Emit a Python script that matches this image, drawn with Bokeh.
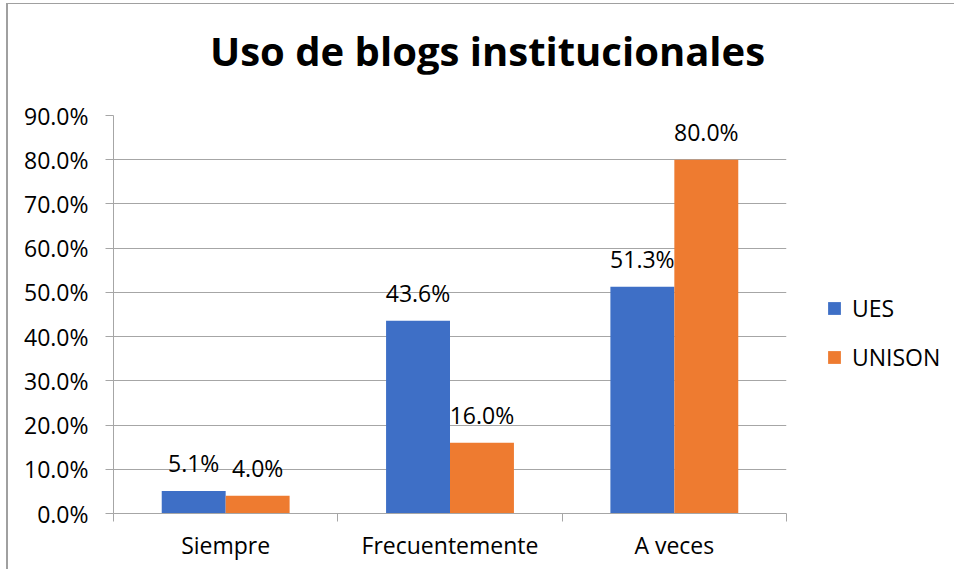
from bokeh.plotting import figure
from bokeh.models import (ColumnDataSource, FixedTicker, PrintfTickFormatter, Range1d,
                          Legend, LegendItem, LabelSet, Div)
from bokeh.layouts import column
from bokeh.core.properties import value
from bokeh.embed import file_html
from bokeh.resources import INLINE

title_text = "Uso de blogs institucionales"
categories = ["Siempre", "Frecuentemente", "A veces"]
series_names = ["UES", "UNISON"]
ues = [5.1, 43.6, 51.3]
unison = [4.0, 16.0, 80.0]
y_ticks = [0, 10, 20, 30, 40, 50, 60, 70, 80, 90]

colors = ["#3e6fc6", "#ee7b30"]
FONT = "Open Sans"
GRID = "#a6a6a6"
FS = "23px"

bar_w = 0.285
offsets = [-bar_w / 2, bar_w / 2]

p = figure(width=938, height=490, output_backend="svg", toolbar_location=None, title=None,
           x_range=Range1d(0, len(categories)), y_range=Range1d(0, 90),
           frame_width=673, frame_height=398,
           min_border_left=105, min_border_right=160, min_border_top=41, min_border_bottom=56,
           margin=0)
p.outline_line_color = None

renderers = []
for name, vals, off, col in zip(series_names, [ues, unison], offsets, colors):
    src = ColumnDataSource(dict(x=[i + 0.5 + off for i in range(len(categories))], top=vals,
                                lab=["%.1f%%" % v for v in vals]))
    r = p.vbar(x="x", top="top", width=bar_w, source=src, fill_color=col, line_color=None)
    renderers.append((name, r))
    p.add_layout(LabelSet(x="x", y="top", text="lab", source=src, text_align="center",
                          text_baseline="bottom", y_offset=12, text_font=value(FONT),
                          text_font_size=FS, text_color="#000000"))

# axes
p.yaxis.ticker = FixedTicker(ticks=y_ticks)
p.yaxis.formatter = PrintfTickFormatter(format="%.1f%%")
p.yaxis.axis_line_color = GRID
p.yaxis.major_tick_line_color = GRID
p.yaxis.major_tick_out = 8
p.yaxis.major_tick_in = 0
p.yaxis.minor_tick_line_color = None
p.yaxis.major_label_standoff = 17
p.yaxis.major_label_text_font = FONT
p.yaxis.major_label_text_font_size = FS
p.yaxis.major_label_text_color = "#000000"

p.xaxis.ticker = FixedTicker(ticks=[i + 0.5 for i in range(len(categories))],
                             minor_ticks=list(range(len(categories) + 1)))
p.xaxis.major_label_overrides = {i + 0.5: c for i, c in enumerate(categories)}
p.xaxis.axis_line_color = GRID
p.xaxis.major_tick_line_color = None
p.xaxis.minor_tick_line_color = GRID
p.xaxis.minor_tick_out = 8
p.xaxis.minor_tick_in = 0
p.xaxis.major_label_standoff = 7
p.xaxis.major_label_text_font = FONT
p.xaxis.major_label_text_font_size = FS
p.xaxis.major_label_text_color = "#000000"

p.xgrid.grid_line_color = None
p.ygrid.grid_line_color = GRID
p.ygrid.ticker = FixedTicker(ticks=y_ticks)

legend = Legend(items=[LegendItem(label=n, renderers=[r]) for n, r in renderers],
                location=(40, 140), orientation="vertical",
                label_text_font=FONT, label_text_font_size=FS, label_text_color="#000000",
                glyph_width=16, glyph_height=16, label_height=24, spacing=17,
                label_standoff=10,
                padding=10, border_line_color=None, background_fill_alpha=0)
p.add_layout(legend, "right")

title_div = Div(
    text=('<div style="padding-left:202px;padding-top:27px;font-family:\'Open Sans\';'
          'font-weight:bold;font-size:40px;line-height:1;color:#000000;white-space:nowrap">'
          + title_text + '</div>'),
    width=938, height=70, margin=0)

layout = column(title_div, p, spacing=0)
layout.styles = {"border-top": "1px solid #a0a0a0", "border-left": "2px solid #a0a0a0",
                 "margin-left": "6px", "margin-top": "3px"}

open("out.html", "w").write(file_html(layout, INLINE))
